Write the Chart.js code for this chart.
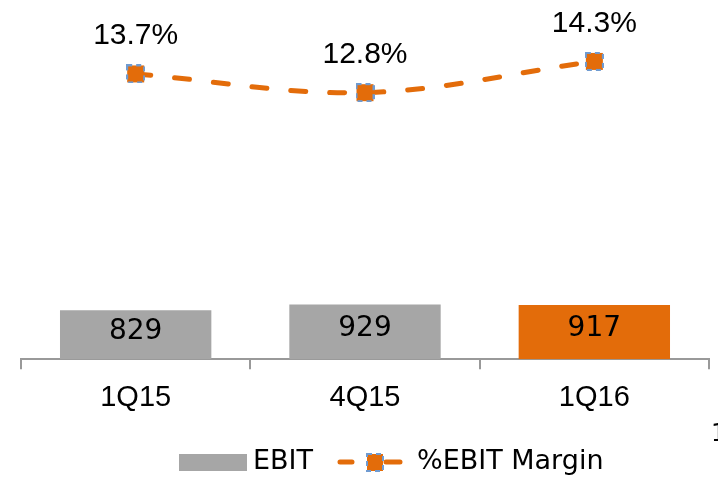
<!DOCTYPE html>
<html>
<head>
<meta charset="utf-8">
<script src="https://cdn.jsdelivr.net/npm/chart.js@4.4.0/dist/chart.umd.min.js"></script>
<style>
  html, body { margin: 0; padding: 0; background: #fff; overflow: hidden; }
  #wrap { position: relative; width: 718px; height: 477px; }
  #stray { position: absolute; left: 711px; top: 419px; font: 24px "DejaVu Sans", sans-serif; color: #000; }
</style>
</head>
<body>
<div id="wrap">
  <canvas id="chart" width="718" height="477"></canvas>
  <div id="stray">1</div>
</div>
<script>
const quarters = ['1Q15', '4Q15', '1Q16'];
const ebit = [829, 929, 917];
const ebitMargin = [13.7, 12.8, 14.3];

const ORANGE = '#e36c0a';
const GREY = '#a6a6a6';

// square marker: orange fill with a dashed blue outline
function makeMarker(w, h) {
  const c = document.createElement('canvas');
  c.width = w; c.height = h;
  const g = c.getContext('2d');
  g.fillStyle = ORANGE;
  g.fillRect(1, 1, w - 2, h - 2);
  g.strokeStyle = '#6f9bd1';
  g.lineWidth = 2;
  g.setLineDash([5, 4]);
  g.strokeRect(1, 1, w - 2, h - 2);
  return c;
}
const marker = makeMarker(19, 19);
const legendMarker = makeMarker(18, 19);

// value labels for bars and line points
const valueLabels = {
  id: 'valueLabels',
  afterDatasetsDraw(chart) {
    const ctx = chart.ctx;
    ctx.save();
    ctx.fillStyle = '#000';
    ctx.textAlign = 'center';
    ctx.textBaseline = 'middle';

    ctx.font = '28px "DejaVu Sans", sans-serif';
    chart.getDatasetMeta(1).data.forEach((bar, i) => {
      const mid = (bar.y + bar.base) / 2 - 3;
      ctx.fillText(String(ebit[i]), bar.x, mid);
    });

    ctx.font = '30px "Liberation Sans", Arial, sans-serif';
    chart.getDatasetMeta(0).data.forEach((pt, i) => {
      ctx.fillText(ebitMargin[i].toFixed(1) + '%', pt.x, pt.y - 38);
    });
    ctx.restore();
  }
};

// legend: grey box for the bars, dashed line with square for the margin
const bottomLegend = {
  id: 'bottomLegend',
  afterDraw(chart) {
    const ctx = chart.ctx;
    ctx.save();
    ctx.font = '27px "DejaVu Sans", sans-serif';
    ctx.textBaseline = 'middle';
    const y = 462;

    ctx.fillStyle = GREY;
    ctx.fillRect(179, 454, 68, 17);
    ctx.fillStyle = '#000';
    ctx.fillText('EBIT', 253, y);

    ctx.strokeStyle = ORANGE;
    ctx.lineWidth = 5;
    ctx.lineCap = 'round';
    ctx.beginPath();
    ctx.moveTo(340, y); ctx.lineTo(352, y);
    ctx.moveTo(386, y); ctx.lineTo(400, y);
    ctx.stroke();

    ctx.drawImage(legendMarker, 366, 453);

    ctx.fillStyle = '#000';
    ctx.fillText('%EBIT Margin', 417, y);
    ctx.restore();
  }
};

new Chart(document.getElementById('chart').getContext('2d'), {
  data: {
    labels: quarters,
    datasets: [
      {
        type: 'line',
        label: '%EBIT Margin',
        data: ebitMargin,
        yAxisID: 'y1',
        borderColor: ORANGE,
        borderWidth: 5,
        borderDash: [15, 24],
        borderCapStyle: 'round',
        tension: 0.35,
        pointStyle: marker,
        pointRadius: 10,
        order: 0
      },
      {
        type: 'bar',
        label: 'EBIT',
        data: ebit,
        yAxisID: 'y',
        backgroundColor: [GREY, GREY, ORANGE],
        barPercentage: 0.66,
        categoryPercentage: 1,
        order: 1
      }
    ]
  },
  options: {
    responsive: false,
    animation: false,
    layout: { autoPadding: false, padding: { top: 26, left: 21, right: 9, bottom: 51 } },
    plugins: { legend: { display: false }, tooltip: { enabled: false } },
    scales: {
      x: {
        offset: true,
        grid: { offset: true, drawOnChartArea: false, drawTicks: true, tickLength: 10, color: '#999', lineWidth: 2 },
        border: { display: true, color: '#999', width: 2 },
        ticks: { color: '#000', padding: 11, font: { family: '"Liberation Sans", Arial, sans-serif', size: 29 } }
      },
      y: { display: false, min: 0, max: 5650 },
      y1: { display: false, min: 0, max: 16 }
    }
  },
  plugins: [valueLabels, bottomLegend]
});
</script>
</body>
</html>
